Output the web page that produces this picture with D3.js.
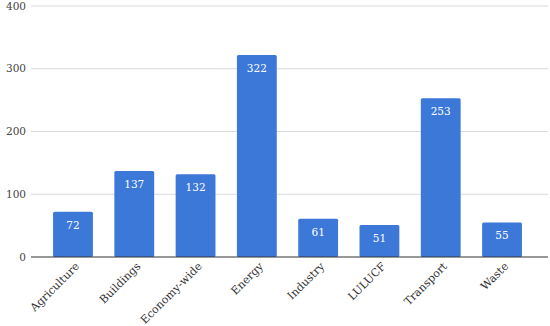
<!DOCTYPE html>
<meta charset="utf-8">
<html>
<head>
    <script src="https://cdn.jsdelivr.net/npm/d3@7"></script>
</head>
<style>
    body { margin: 0; background: #fff; }
    svg { display: block; }
    text { font-family: "DejaVu Serif", "Liberation Serif", serif; }
    .grid line { stroke: #d9d9d9; stroke-width: 1.2px; }
    .ylab { font-size: 10.5px; fill: #444; }
    .xlab { font-size: 11px; fill: #333; }
    .val { font-size: 10.5px; fill: #fff; }
</style>
<body>
<svg width="550" height="326"></svg>
<script>
    // data
    const categories = ["Agriculture", "Buildings", "Economy-wide", "Energy", "Industry", "LULUCF", "Transport", "Waste"];
    const values = [72, 137, 132, 322, 61, 51, 253, 55];
    const yTicks = [0, 100, 200, 300, 400];

    const svg = d3.select("svg");
    const mLeft = 31, mRight = 548, mTop = 6, mBottom = 257;

    const x = d3.scaleBand()
        .domain(categories)
        .range([mLeft, 544])
        .paddingInner(0.35)
        .paddingOuter(0.36);
    const y = d3.scaleLinear().domain([0, 400]).range([mBottom, mTop]);

    // gridlines
    svg.append("g").attr("class", "grid")
        .selectAll("line")
        .data(yTicks.filter(d => d > 0))
        .join("line")
        .attr("x1", mLeft).attr("x2", mRight)
        .attr("y1", d => y(d)).attr("y2", d => y(d));

    // y labels
    svg.append("g")
        .selectAll("text")
        .data(yTicks)
        .join("text")
        .attr("class", "ylab")
        .attr("x", 26)
        .attr("y", d => y(d))
        .attr("dy", "0.35em")
        .attr("text-anchor", "end")
        .text(d => d);

    // bars
    svg.append("g")
        .selectAll("rect")
        .data(values)
        .join("rect")
        .attr("x", (d, i) => x(categories[i]))
        .attr("y", d => y(d))
        .attr("width", x.bandwidth())
        .attr("height", d => y(0) - y(d))
        .attr("rx", 1.5)
        .attr("fill", "#3c78d8");

    // value labels
    svg.append("g")
        .selectAll("text")
        .data(values)
        .join("text")
        .attr("class", "val")
        .attr("x", (d, i) => x(categories[i]) + x.bandwidth() / 2)
        .attr("y", d => y(d) + 17)
        .attr("text-anchor", "middle")
        .text(d => d);

    // baseline
    svg.append("line")
        .attr("x1", mLeft).attr("x2", mRight)
        .attr("y1", y(0)).attr("y2", y(0))
        .attr("stroke", "#333").attr("stroke-width", 1.2);

    // x labels
    svg.append("g")
        .selectAll("text")
        .data(categories)
        .join("text")
        .attr("class", "xlab")
        .attr("text-anchor", "end")
        .attr("transform", d => `translate(${x(d) + x.bandwidth() / 2 + 7},${y(0) + 10}) rotate(-45)`)
        .text(d => d);
</script>
</body>
</html>
